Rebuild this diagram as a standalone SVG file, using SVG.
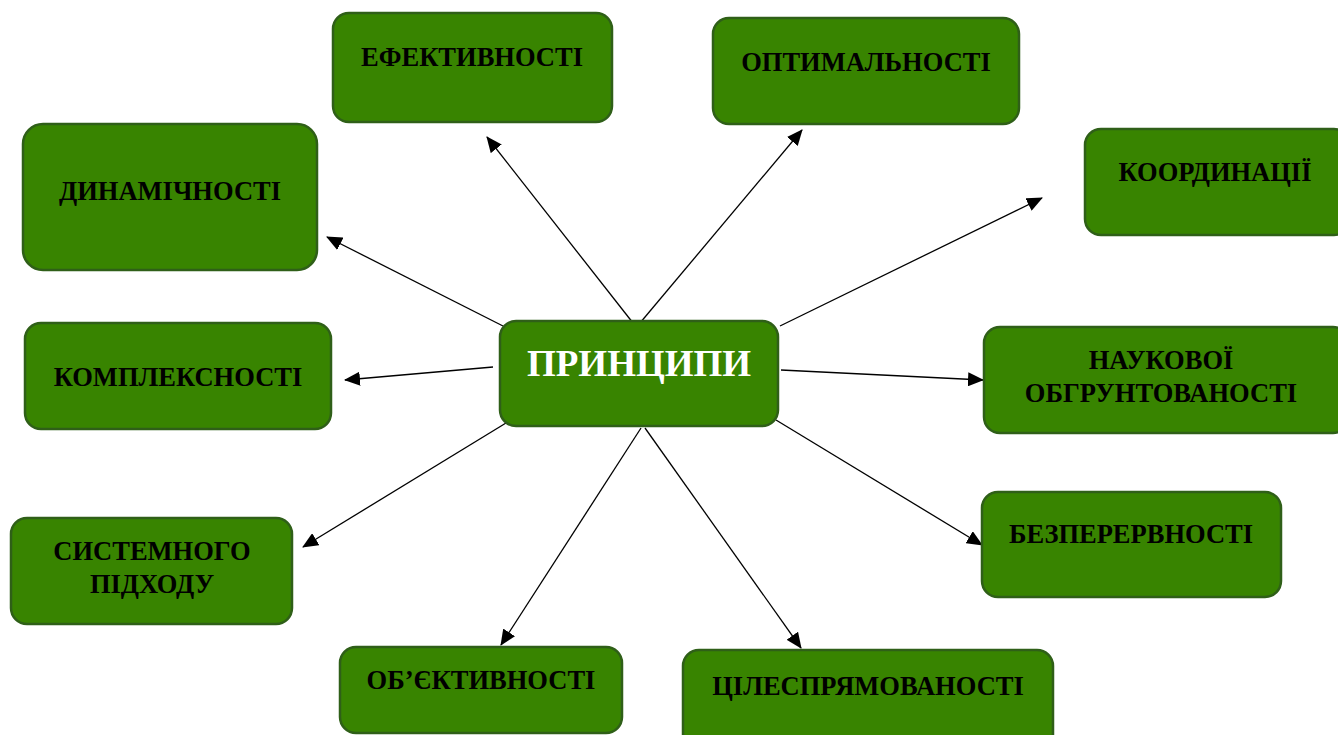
<svg xmlns="http://www.w3.org/2000/svg" width="1338" height="735" viewBox="0 0 1338 735">
<defs>
<style>
.box{fill:#388400;stroke:#2f5f18;stroke-width:2.5}
.t{font-family:"Liberation Serif","Times New Roman",serif;font-weight:bold;font-size:26.5px;fill:#000;text-anchor:middle}
.c{font-family:"Liberation Serif","Times New Roman",serif;font-weight:bold;font-size:37px;fill:#fff;text-anchor:middle}
.e{stroke:#000;stroke-width:1.3;fill:none;marker-end:url(#ah)}
</style>
<marker id="ah" markerUnits="userSpaceOnUse" markerWidth="16" markerHeight="14" refX="15" refY="7" orient="auto">
<path d="M0,0 L16,7 L0,14 Z" fill="#000"/>
</marker>
</defs>
<rect width="1338" height="735" fill="#fff"/>
<g id="connectors">
<line class="e" x1="633" y1="323" x2="487" y2="137"/>
<line class="e" x1="640" y1="323" x2="802" y2="130"/>
<line class="e" x1="780" y1="326" x2="1042" y2="198"/>
<line class="e" x1="503" y1="326" x2="327" y2="237"/>
<line class="e" x1="493" y1="367" x2="345" y2="380"/>
<line class="e" x1="781" y1="370" x2="983" y2="380"/>
<line class="e" x1="506" y1="423" x2="303" y2="547"/>
<line class="e" x1="776" y1="420" x2="982" y2="545"/>
<line class="e" x1="641" y1="428" x2="501" y2="645"/>
<line class="e" x1="645" y1="428" x2="801" y2="648"/>
</g>
<g id="n-center"><rect class="box" x="500" y="321" width="278" height="105" rx="16"/><text class="c" x="639" y="376">ПРИНЦИПИ</text></g>
<g id="n-efekt"><rect class="box" x="333" y="13" width="279" height="109" rx="16"/><text class="t" x="472" y="66">ЕФЕКТИВНОСТІ</text></g>
<g id="n-optym"><rect class="box" x="713" y="18" width="306" height="106" rx="16"/><text class="t" x="866" y="71">ОПТИМАЛЬНОСТІ</text></g>
<g id="n-koord"><rect class="box" x="1085" y="129" width="265" height="106" rx="16"/><text class="t" x="1215" y="181">КООРДИНАЦІЇ</text></g>
<g id="n-dynam"><rect class="box" x="23" y="124" width="294" height="146" rx="20"/><text class="t" x="170" y="200">ДИНАМІЧНОСТІ</text></g>
<g id="n-kompl"><rect class="box" x="25" y="323" width="306" height="106" rx="16"/><text class="t" x="178" y="386">КОМПЛЕКСНОСТІ</text></g>
<g id="n-nauk"><rect class="box" x="984" y="327" width="365" height="106" rx="16"/><text class="t" x="1161" y="369">НАУКОВОЇ</text><text class="t" x="1161" y="402">ОБГРУНТОВАНОСТІ</text></g>
<g id="n-syst"><rect class="box" x="11" y="518" width="281" height="106" rx="16"/><text class="t" x="152" y="560">СИСТЕМНОГО</text><text class="t" x="152" y="593">ПІДХОДУ</text></g>
<g id="n-bezp"><rect class="box" x="982" y="492" width="299" height="105" rx="16"/><text class="t" x="1131" y="543">БЕЗПЕРЕРВНОСТІ</text></g>
<g id="n-obiekt"><rect class="box" x="340" y="647" width="282" height="86" rx="16"/><text class="t" x="481" y="689">ОБ’ЄКТИВНОСТІ</text></g>
<g id="n-tsil"><rect class="box" x="683" y="650" width="370" height="100" rx="16"/><text class="t" x="868" y="695">ЦІЛЕСПРЯМОВАНОСТІ</text></g>
</svg>
